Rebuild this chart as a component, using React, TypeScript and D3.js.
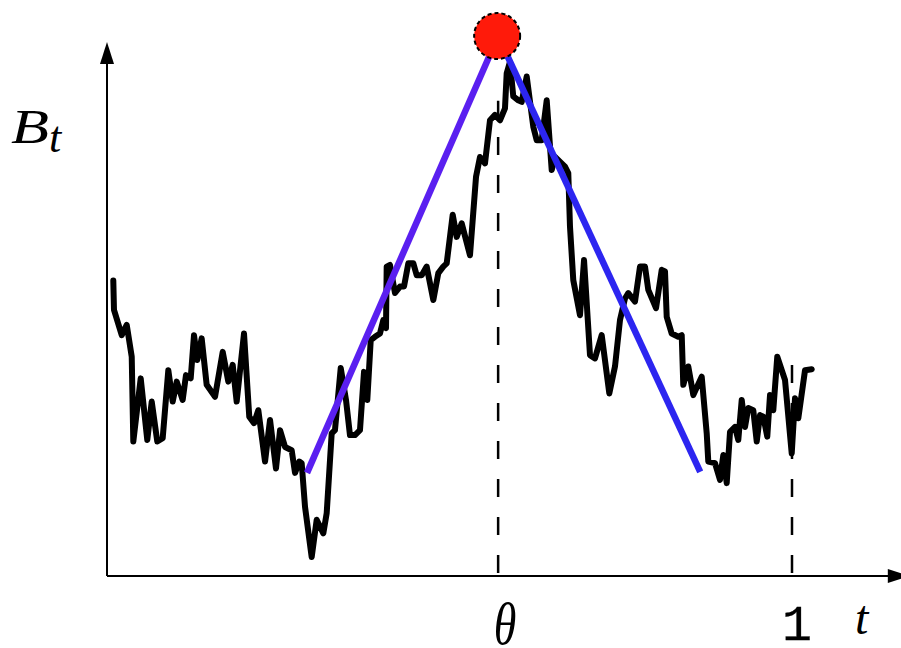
import React from "react";
import * as d3 from "d3";

// Sample path of B_t: times and values
const times = [
  0.0092, 0.0102, 0.0215, 0.0288, 0.0361, 0.0384, 0.0492, 0.0588, 0.0653, 0.0734,
  0.0813, 0.0895, 0.0959, 0.1018, 0.1105, 0.1153, 0.1222, 0.127, 0.1318, 0.1382,
  0.1455, 0.1577, 0.1689, 0.1771, 0.1835, 0.1893, 0.2, 0.2077, 0.2146, 0.2209,
  0.2307, 0.238, 0.2467, 0.2526, 0.2599, 0.2696, 0.2745, 0.2807, 0.2842, 0.2891,
  0.2988, 0.3061, 0.3158, 0.3207, 0.328, 0.3328, 0.3412, 0.3489, 0.3547, 0.362,
  0.3693, 0.3752, 0.38, 0.385, 0.3912, 0.3985, 0.4034, 0.4073, 0.4083, 0.4131,
  0.4204, 0.4277, 0.4336, 0.4399, 0.4472, 0.4521, 0.4594, 0.4667, 0.4764, 0.4837,
  0.4909, 0.4959, 0.5047, 0.5105, 0.5178, 0.5299, 0.5387, 0.5445, 0.5518, 0.5591,
  0.5664, 0.5737, 0.581, 0.5835, 0.5883, 0.5931, 0.6004, 0.6054, 0.6127, 0.6223,
  0.6273, 0.6346, 0.6419, 0.6492, 0.654, 0.6686, 0.6734, 0.6759, 0.6807, 0.6905,
  0.6964, 0.7051, 0.7124, 0.7222, 0.7333, 0.7416, 0.7489, 0.7562, 0.761, 0.7708,
  0.7781, 0.7854, 0.7902, 0.8015, 0.8098, 0.8146, 0.8171, 0.8244, 0.834, 0.839,
  0.8413, 0.8486, 0.8559, 0.8682, 0.8755, 0.8778, 0.8876, 0.8949, 0.8997, 0.9047,
  0.9095, 0.9168, 0.9216, 0.9266, 0.9314, 0.9362, 0.9435, 0.9485, 0.9533, 0.9581,
  0.9639, 0.9679, 0.9727, 0.9785, 0.9898, 0.9996, 1.0044, 1.0092, 1.019, 1.0288,
];

const values = [
  5.47, 4.93, 4.46, 4.65, 4.06, 2.49, 3.66, 2.52, 3.23, 2.49,
  2.55, 3.81, 3.23, 3.6, 3.26, 3.72, 3.66, 4.46, 4.0, 4.4,
  3.54, 3.32, 4.15, 3.6, 3.91, 3.23, 4.49, 2.95, 2.83, 3.07,
  2.12, 2.89, 1.99, 2.7, 2.39, 2.33, 1.91, 2.12, 2.09, 1.28,
  0.35, 1.04, 0.79, 1.16, 2.64, 2.7, 3.85, 3.26, 2.61, 2.61,
  2.7, 3.78, 3.26, 4.37, 4.43, 4.49, 4.74, 4.59, 5.73, 5.76,
  5.24, 5.36, 5.36, 5.79, 5.79, 5.57, 5.57, 5.73, 5.11, 5.61,
  5.73, 5.79, 6.69, 6.28, 6.53, 5.94, 7.39, 7.76, 7.64, 8.44,
  8.54, 8.44, 8.66, 9.31, 9.52, 8.88, 8.81, 8.78, 9.25, 8.32,
  8.07, 8.07, 8.81, 7.52, 7.76, 7.58, 7.46, 6.47, 5.48, 4.83,
  5.85, 4.09, 4.03, 4.46, 3.38, 3.88, 4.74, 5.14, 5.24, 5.08,
  5.73, 5.73, 5.3, 4.96, 5.67, 5.64, 4.8, 4.49, 4.43, 4.46,
  3.54, 3.88, 3.35, 3.69, 2.64, 2.12, 2.09, 1.78, 2.24, 1.72,
  2.67, 2.76, 2.52, 3.26, 2.76, 3.11, 3.07, 2.49, 2.98, 2.95,
  2.58, 3.35, 3.07, 4.06, 3.63, 2.27, 3.29, 2.92, 3.81, 3.83,
];

// Time of the maximum and the level of the marker
const theta = 0.571;
const peakLevel = 10;

// Rising and falling guide lines: [start time, start value] -> marker
const riseStart = [0.292, 1.91];
const fallStart = [0.866, 1.93];

// Dashed guide heights at θ and at t = 1
const dashTimes = [theta, 1];
const dashTops = [8.8, 3.96];

// Axis extents (data units)
const axisEndT = 1.172;
const axisEndB = 9.89;

const tickLabels = ["θ", "1"];

const W = 901;
const H = 648;

export default function App() {
  const x = d3.scaleLinear().domain([0, 1]).range([107, 792]);
  const y = d3.scaleLinear().domain([0, 10]).range([576, 36]);

  const pts = times.map((t, i) => [t, values[i]] as [number, number]);
  const path = d3
    .line<[number, number]>()
    .x((d) => x(d[0]))
    .y((d) => y(d[1]))(pts);

  const x0 = x(0);
  const y0 = y(0);
  const xEnd = x(axisEndT);
  const yEnd = y(axisEndB);

  const arrowLen = 22;
  const arrowHalf = 7;

  const mathFont = "'Liberation Serif', 'Times New Roman', serif";

  return (
    <svg
      width={W}
      height={H}
      style={{ position: "absolute", left: 0, top: 0, background: "#fff" }}
    >
      <rect x={0} y={0} width={W} height={H} fill="#fff" />

      {/* dashed verticals */}
      {dashTimes.map((t, i) => (
        <line
          key={i}
          x1={x(t)}
          x2={x(t)}
          y1={y0}
          y2={y(dashTops[i])}
          stroke="#000"
          strokeWidth={2.5}
          strokeDasharray="18 20"
          strokeDashoffset={35}
        />
      ))}

      {/* axes */}
      <line x1={x0} y1={y0} x2={xEnd - arrowLen + 2} y2={y0} stroke="#000" strokeWidth={2} />
      <path
        d={`M${xEnd},${y0} L${xEnd - arrowLen},${y0 - arrowHalf} L${xEnd - arrowLen},${y0 + arrowHalf} Z`}
        fill="#000"
      />
      <line x1={x0} y1={y0} x2={x0} y2={yEnd + arrowLen - 2} stroke="#000" strokeWidth={2} />
      <path
        d={`M${x0},${yEnd} L${x0 - arrowHalf},${yEnd + arrowLen} L${x0 + arrowHalf},${yEnd + arrowLen} Z`}
        fill="#000"
      />

      {/* sample path */}
      <path
        d={path ?? ""}
        fill="none"
        stroke="#000"
        strokeWidth={6}
        strokeLinejoin="round"
        strokeLinecap="round"
      />

      {/* guide lines */}
      <line
        x1={x(riseStart[0])}
        y1={y(riseStart[1])}
        x2={x(theta)}
        y2={y(peakLevel)}
        stroke="#5a1ff0"
        strokeWidth={6.5}
      />
      <line
        x1={x(fallStart[0])}
        y1={y(fallStart[1])}
        x2={x(theta)}
        y2={y(peakLevel)}
        stroke="#2c25f0"
        strokeWidth={6.5}
      />

      {/* marker */}
      <circle
        cx={x(theta) - 1}
        cy={y(peakLevel)}
        r={23}
        fill="#ff1a0a"
        stroke="#000"
        strokeWidth={2}
        strokeDasharray="4 3"
      />

      {/* labels */}
      <text
        x={11}
        y={143}
        fontFamily={mathFont}
        fontStyle="italic"
        fontSize={48}
        textLength={38}
        lengthAdjust="spacingAndGlyphs"
        fill="#000"
      >
        B
      </text>
      <text x={49} y={152} fontFamily={mathFont} fontStyle="italic" fontSize={44} fill="#000">
        t
      </text>
      <text
        transform={`translate(${x(theta) + 7},644) scale(1,1.3)`}
        fontFamily={mathFont}
        fontStyle="italic"
        fontSize={46}
        textAnchor="middle"
        fill="#000"
      >
        {tickLabels[0]}
      </text>
      <text
        x={x(1) + 5}
        y={640}
        fontFamily="'Liberation Mono', 'DejaVu Sans Mono', monospace"
        fontSize={50}
        textAnchor="middle"
        fill="#000"
        stroke="#000"
        strokeWidth={0.3}
      >
        {tickLabels[1]}
      </text>
      <text x={855} y={634} fontFamily={mathFont} fontStyle="italic" fontSize={48} fill="#000">
        t
      </text>
    </svg>
  );
}
